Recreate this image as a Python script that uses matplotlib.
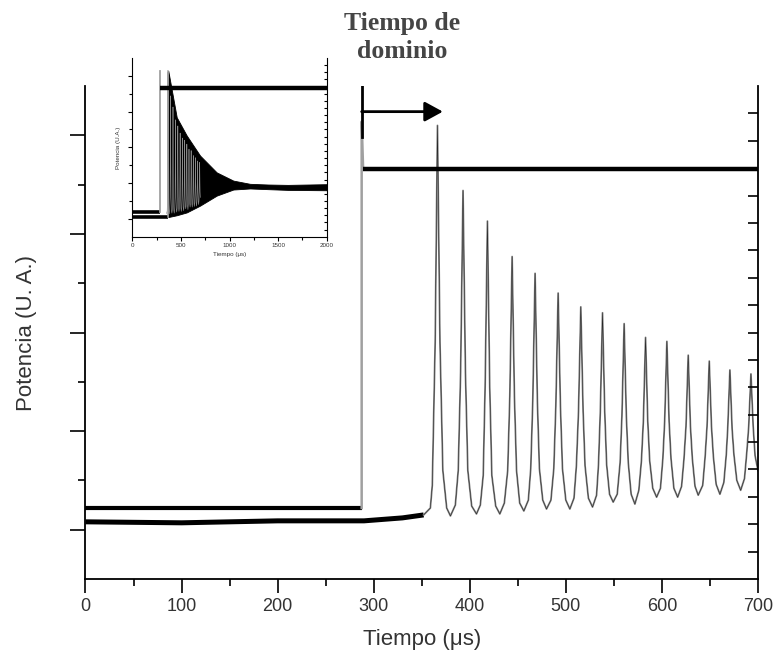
import numpy as np
import matplotlib
matplotlib.use("Agg")
from matplotlib import pyplot as plt

# ---- data (time in us, power in arbitrary units) ----
# upper trace: flat low level, jump at ~288 us, then steady plateau
upper_base_t = [0, 287.5]
upper_base_p = [0.22, 0.22]
upper_jump_t = [287.5, 287.5, 289.0]
upper_jump_p = [0.22, 4.14, 3.66]
upper_plat_t = [289.0, 700]
upper_plat_p = [3.66, 3.66]

# lower trace: flat baseline then decaying oscillation
lower_base_t = [0, 100, 200, 290, 330, 352]
lower_base_p = [0.08, 0.07, 0.09, 0.09, 0.12, 0.15]

osc_t = [352, 359, 361, 364, 366.4, 369, 372, 376, 379.9,
         385, 388, 390.5, 393.0, 395.5, 398, 402, 407.0,
         411, 414, 416, 418.4, 420.8, 423, 427, 431.3,
         436, 439.5, 441.7, 444.1, 446.5, 448.7, 452, 456.3,
         461, 463.5, 465.6, 468.0, 470.4, 472.5, 476, 479.9,
         484.5, 487.5, 489.6, 492.0, 494.4, 496.5, 500, 504.2,
         508.5, 511, 513.2, 515.6, 518, 520, 523.5, 527.8,
         532, 534, 535.9, 538.2, 540.5, 542.5, 545.5, 549.3,
         553.5, 556.5, 558.4, 560.7, 563, 565, 568, 571.9,
         576, 578.7, 580.7, 583.0, 585.3, 587.3, 590.5, 594.5,
         598.5, 601, 602.9, 605.2, 607.5, 609.5, 612.5, 616.4,
         620.5, 623, 625.1, 627.4, 629.7, 631.7, 634.5, 637.8,
         642.5, 645, 647, 649.3, 651.6, 653.6, 656.5, 660.4,
         664.5, 667, 668.5, 670.8, 673.1, 675, 678, 682.0,
         686, 688.5, 690.4, 692.7, 695, 697, 700]
osc_p = [0.15, 0.22, 0.45, 1.9, 4.10, 1.9, 0.6, 0.22, 0.14,
         0.25, 0.6, 1.6, 3.44, 1.6, 0.6, 0.24, 0.16,
         0.25, 0.55, 1.45, 3.13, 1.45, 0.55, 0.24, 0.16,
         0.27, 0.6, 1.35, 2.77, 1.35, 0.6, 0.27, 0.19,
         0.30, 0.62, 1.3, 2.60, 1.3, 0.62, 0.30, 0.21,
         0.30, 0.62, 1.25, 2.40, 1.25, 0.62, 0.30, 0.21,
         0.32, 0.65, 1.2, 2.26, 1.2, 0.65, 0.32, 0.23,
         0.35, 0.66, 1.2, 2.20, 1.2, 0.66, 0.36, 0.28,
         0.36, 0.68, 1.15, 2.09, 1.15, 0.68, 0.36, 0.26,
         0.40, 0.70, 1.1, 1.95, 1.1, 0.70, 0.42, 0.33,
         0.42, 0.72, 1.1, 1.91, 1.1, 0.72, 0.42, 0.33,
         0.44, 0.72, 1.05, 1.77, 1.05, 0.72, 0.44, 0.35,
         0.45, 0.74, 1.05, 1.71, 1.05, 0.74, 0.46, 0.36,
         0.48, 0.76, 1.02, 1.62, 1.02, 0.76, 0.50, 0.40,
         0.52, 0.80, 1.05, 1.58, 1.05, 0.75, 0.60]

# inset: whole record to 2000 us, oscillation band given by its envelopes
inset_upper_base_p = [0.19, 0.19]
inset_lower_base_p = [0.05, 0.05]
env_t = [370, 457, 560, 697, 868, 1039, 1211, 1400, 1600, 2000]
env_hi = [4.14, 2.84, 2.33, 1.77, 1.30, 1.07, 0.98, 0.96, 0.95, 0.97]
env_lo = [0.05, 0.10, 0.18, 0.37, 0.65, 0.82, 0.85, 0.83, 0.81, 0.80]

x_ticks = [0, 100, 200, 300, 400, 500, 600, 700]
inset_x_ticks = [0, 500, 1000, 1500, 2000]

GREY = "#858585"
TXT = "#333333"
plt.rcParams["font.family"] = ["Liberation Sans", "DejaVu Sans"]

fig = plt.figure(figsize=(7.77, 6.57), dpi=100)

# ---------------- main axes ----------------
ax = fig.add_axes([0.110, 0.1187, 0.8655, 0.7504])
ax.plot(lower_base_t, lower_base_p, color="black", lw=3.6, solid_capstyle="butt")
ax.plot(osc_t, osc_p, color=GREY, lw=1.3)
ax.plot(osc_t, osc_p, color="#222222", lw=0.35)
ax.plot(upper_base_t, upper_base_p, color="black", lw=3.0, solid_capstyle="butt")
ax.plot(upper_jump_t, upper_jump_p, color="#a0a0a0", lw=1.8)
ax.plot(upper_plat_t, upper_plat_p, color="black", lw=3.2, solid_capstyle="butt")

ax.set_xlim(0, 700)
ax.set_ylim(-0.5, 4.5)
ax.set_xticks(x_ticks)
ax.set_xticks(np.arange(50, 700, 100), minor=True)
ax.set_yticks([0, 1, 2, 3, 4])
ax.set_yticks([0.5, 1.5, 2.5, 3.5], minor=True)
ax.tick_params(axis="x", which="major", length=10, width=1.2, direction="out",
               labelsize=13, labelcolor=TXT, pad=4)
ax.tick_params(axis="x", which="minor", length=5, width=1.2, direction="out")
ax.tick_params(axis="y", which="major", length=11, width=1.2, direction="out",
               labelleft=False)
ax.tick_params(axis="y", which="minor", length=5, width=1.2, direction="out")
ax.spines["top"].set_visible(False)
ax.spines["right"].set_visible(False)
for s in ("left", "bottom"):
    ax.spines[s].set_linewidth(1.3)
ax.set_xlabel("Tiempo (\u03bcs)", fontsize=16, color=TXT, labelpad=10)
ax.set_ylabel("Potencia (U. A.)", fontsize=16, color=TXT, labelpad=24)

ax2 = ax.twinx()
ax2.set_ylim(0, 18)
ax2.set_yticks(range(1, 18))
ax2.tick_params(axis="y", length=7, width=1.2, direction="in", labelright=False)
ax2.spines["top"].set_visible(False)
ax2.spines["left"].set_visible(False)
ax2.spines["bottom"].set_visible(False)
ax2.spines["right"].set_linewidth(1.3)

# "Tiempo de dominio" marker
ax.plot([287.5, 287.5], [4.5, 3.98], color="black", lw=2.0)
ax.annotate("", xy=(372, 4.24), xytext=(287.5, 4.24),
            arrowprops=dict(arrowstyle="-|>,head_length=0.55,head_width=0.3",
                            mutation_scale=20, lw=2.0, color="black",
                            shrinkA=0, shrinkB=0))
fig.text(0.517, 0.943, "Tiempo de\ndominio", ha="center", va="center",
         fontsize=18.5, fontweight="bold", color="#454545",
         family="Liberation Serif", linespacing=1.3)

# ---------------- inset ----------------
ins = fig.add_axes([0.1703, 0.6397, 0.2502, 0.2720])
ins.plot([0, 370], inset_lower_base_p, color="black", lw=2.6, solid_capstyle="butt")
ins.plot([0, 285], inset_upper_base_p, color="black", lw=2.6, solid_capstyle="butt")
ins.fill_between(env_t, env_lo, env_hi, color="black", lw=0.6)
ins.plot(osc_t, osc_p, color="#8a8a8a", lw=0.45)
ins.plot([285, 285], [0.19, 4.14], color="#a0a0a0", lw=1.3)
ins.plot([370, 370], [0.05, 4.14], color="#a0a0a0", lw=1.1)
ins.plot([288, 2000], [3.66, 3.66], color="black", lw=3.2, solid_capstyle="butt")
ins.set_xlim(0, 2000)
ins.set_ylim(-0.5, 4.5)
ins.set_xticks(inset_x_ticks)
ins.set_xticks([250, 750, 1250, 1750], minor=True)
ins.set_yticks([0, 1, 2, 3, 4])
ins.set_yticks([0.5, 1.5, 2.5, 3.5], minor=True)
ins.tick_params(axis="x", which="major", length=3, width=0.8, labelsize=4.5,
                labelcolor=TXT, pad=1.5)
ins.tick_params(axis="x", which="minor", length=2, width=0.8)
ins.tick_params(axis="y", which="major", length=3, width=0.8, labelleft=False)
ins.tick_params(axis="y", which="minor", length=2, width=0.8)
ins.spines["top"].set_visible(False)
ins.spines["right"].set_visible(False)
ins.set_xlabel("Tiempo (\u03bcs)", fontsize=4.5, color=TXT, labelpad=3)
ins.set_ylabel("Potencia (U.A.)", fontsize=4.5, color=TXT, labelpad=5)
ins2 = ins.twinx()
ins2.set_ylim(0, 25)
ins2.set_yticks(range(1, 25))
ins2.tick_params(axis="y", length=2.5, width=0.8, direction="in", labelright=False)
for s in ("top", "left", "bottom"):
    ins2.spines[s].set_visible(False)

fig.savefig("out.png", dpi=100)
